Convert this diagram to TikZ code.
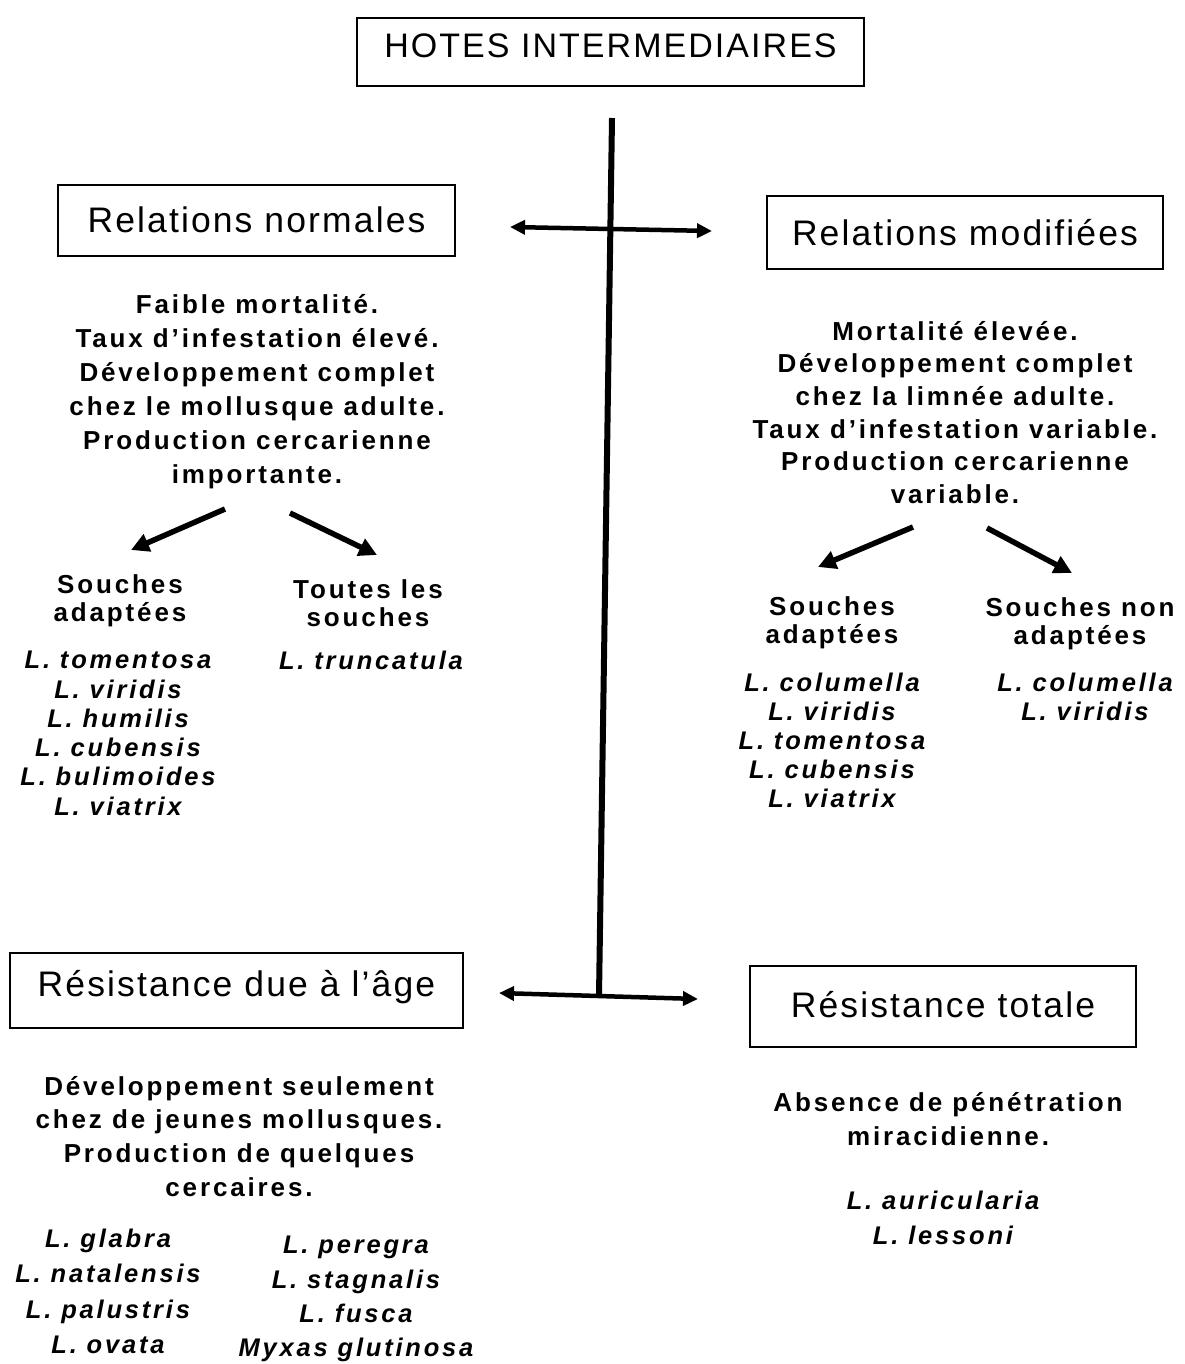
\documentclass[tikz,border=0pt]{standalone}
\usepackage{fontspec}
\setmainfont{Liberation Sans}
\newfontfamily\boxfont[LetterSpace=6]{Liberation Sans}
\newfontfamily\bodyfont[LetterSpace=11]{Liberation Sans}
\newfontfamily\listfont[LetterSpace=11]{Liberation Sans}
\usetikzlibrary{arrows.meta}
\tikzset{
  hbox/.style={draw, line width=1.3pt, inner sep=0pt,
    font=\boxfont\fontsize{35.5}{40}\selectfont, text height=25.4pt, text depth=0pt},
  body/.style={align=center, inner sep=0pt, anchor=north,
    font=\bodyfont\bfseries\fontsize{26}{#1}\selectfont},
  species/.style={align=center, inner sep=0pt, anchor=north,
    font=\listfont\bfseries\itshape\fontsize{25.5}{#1}\selectfont},
  bar/.style={line width=6pt},
  harrow/.style={line width=4.5pt, {Triangle[length=15pt,width=14pt]}-{Triangle[length=15pt,width=14pt]}},
  darrow/.style={line width=5.5pt, -{Triangle[length=18pt,width=18pt]}}
}
\begin{document}
\begin{tikzpicture}[x=1pt,y=-1pt]
\useasboundingbox[fill=white] (0,0) rectangle (1184,1364);

% boxes
\node[hbox, font=\boxfont\fontsize{34}{40}\selectfont, text height=24.3pt, text depth=13.7pt,
      minimum width=507pt, minimum height=68pt] (title) at (610.5,52) {HOTES INTERMEDIAIRES};
\node[hbox, minimum width=397pt, minimum height=71pt, text depth=2pt] (norm) at (256.5,220.5) {Relations normales};
\node[hbox, minimum width=396pt, minimum height=73pt] (modif) at (965,232.5) {Relations modifiées};
\node[hbox, minimum width=453pt, minimum height=75pt, text depth=14pt] (age) at (236.5,990.5) {Résistance due à l’âge};
\node[hbox, minimum width=386pt, minimum height=81pt, text depth=4pt] (tot) at (943,1006.5) {Résistance totale};

% central bar and horizontal arrows
\coordinate (vtop) at (612,118);
\coordinate (vbot) at (599,996);
\draw[bar] (vtop) -- (vbot);
\coordinate (tl) at (510,227);
\coordinate (tr) at (712,231);
\draw[harrow] (tl) -- (tr);
\coordinate (bl) at (499,993);
\coordinate (br) at (698,999);
\draw[harrow] (bl) -- (br);

% left (normal relations)
\node[body=34] (lbody) at (257,294) {Faible mortalité.\\Taux d’infestation élevé.\\Développement complet\\chez le mollusque adulte.\\Production cercarienne\\importante.};
\coordinate (la1) at (225,509);
\coordinate (la2) at (131,550);
\coordinate (lb1) at (290,513);
\coordinate (lb2) at (377,555);
\draw[darrow] (la1) -- (la2);
\draw[darrow] (lb1) -- (lb2);
\node[body=28] (ladap) at (120,574) {Souches\\adaptées};
\node[body=28] (ltout) at (368,579) {Toutes les\\souches};
\node[species=29.3] (lsp) at (118,651) {L. tomentosa\\L. viridis\\L. humilis\\L. cubensis\\L. bulimoides\\L. viatrix};
\node[species=29.3] (ltr) at (371,651) {L. truncatula};

% right (modified relations)
\node[body=32.6] (rbody) at (955,321) {Mortalité élevée.\\Développement complet\\chez la limnée adulte.\\Taux d’infestation variable.\\Production cercarienne\\variable.};
\coordinate (ra1) at (913,527);
\coordinate (ra2) at (818,567);
\coordinate (rb1) at (987,528);
\coordinate (rb2) at (1072,573);
\draw[darrow] (ra1) -- (ra2);
\draw[darrow] (rb1) -- (rb2);
\node[body=28] (radap) at (832,596) {Souches\\adaptées};
\node[body=28] (rnon) at (1080,597) {Souches non\\adaptées};
\node[species=29] (rsp) at (832,673) {L. columella\\L. viridis\\L. tomentosa\\L. cubensis\\L. viatrix};
\node[species=29] (rsp2) at (1085,673) {L. columella\\L. viridis};

% bottom left (age resistance)
\node[body=33.7] (abody) at (239,1076) {Développement seulement\\chez de jeunes mollusques.\\Production de quelques\\cercaires.};
\node[species=35.3] (asp1) at (108,1229) {L. glabra\\L. natalensis\\L. palustris\\L. ovata};
\node[species=34.3] (asp2) at (356,1236) {L. peregra\\L. stagnalis\\L. fusca\\Myxas glutinosa};

% bottom right (total resistance)
\node[body=34] (tbody) at (948,1092) {Absence de pénétration\\miracidienne.};
\node[species=35] (tsp) at (943,1191) {L. auricularia\\L. lessoni};
\end{tikzpicture}
\end{document}
